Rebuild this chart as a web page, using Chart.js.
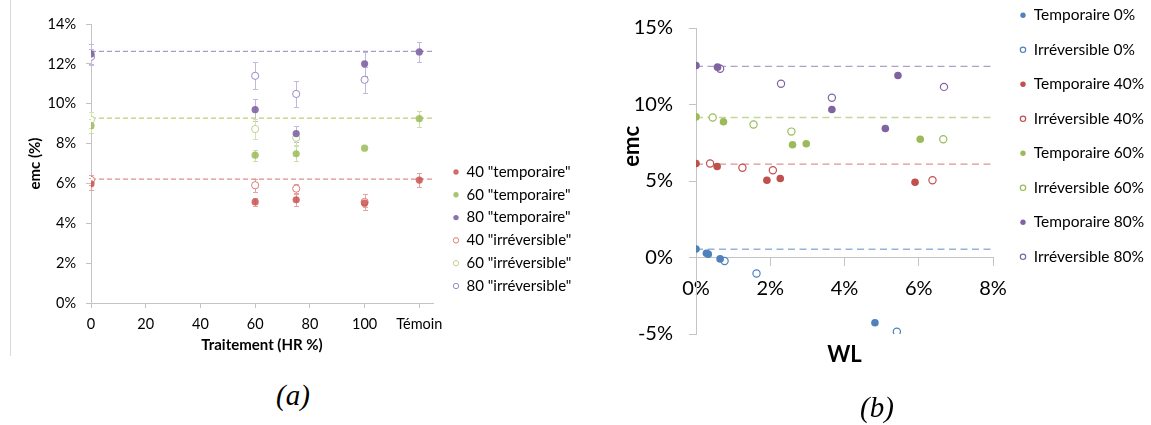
<!DOCTYPE html>
<html><head><meta charset="utf-8">
<script src="https://cdn.jsdelivr.net/npm/chart.js@4.4.1/dist/chart.umd.min.js"></script>
<style>
html,body{margin:0;padding:0;background:#fff;width:1151px;height:425px;overflow:hidden;}
#wa{position:absolute;left:0;top:0;width:645px;height:360px;}
#wb{position:absolute;left:600px;top:0;width:551px;height:425px;}
#frame{position:absolute;left:10px;top:0;width:1px;height:356px;background:#D9D9D9;}
.cap{position:absolute;width:100px;text-align:center;font-family:"Liberation Serif",serif;font-style:italic;font-size:29px;line-height:29px;color:#000;}
</style></head><body>
<div id="frame"></div>
<div id="wa"><canvas id="ca" width="645" height="360"></canvas></div>
<div id="wb"><canvas id="cb" width="551" height="425"></canvas></div>
<div class="cap" style="left:243px;top:381px;">(a)</div>
<div class="cap" style="left:827px;top:393px;">(b)</div>
<script>
// ---------- (a) emc vs treatment ----------
const xTicksA = [0, 20, 40, 60, 80, 100, 120];
const xTickLabelsA = ['0', '20', '40', '60', '80', '100', 'Témoin'];
const hrTemp = [0, 60, 75, 100, 120];      // 120 = Témoin
const hrIrr = [0, 60, 75, 100];
const temp40 = [5.98, 5.07, 5.18, 5.01, 6.17];
const temp40Err = [0.3, 0.2, 0.32, 0.2, 0.35];
const temp60 = [8.9, 7.42, 7.49, 7.77, 9.25];
const temp60Err = [0.35, 0.27, 0.37, 0, 0.4];
const temp80 = [12.5, 9.7, 8.5, 12.0, 12.6];
const temp80Err = [0.5, 0.55, 0.4, 0.6, 0.5];
const irr40 = [6.18, 5.91, 5.74, 5.07];
const irr40Err = [0.25, 0.33, 0.25, 0.38];
const irr60 = [9.2, 8.73, 8.29, null];
const irr60Err = [0.4, 0.5, 0.35, 0];
const irr80 = [12.35, 11.4, 10.49, 11.2];
const irr80Err = [0.4, 0.68, 0.65, 0.65];
const refA40 = 6.22, refA60 = 9.28, refA80 = 12.63;
const xMaxA = 125;

// ---------- (b) emc vs WL ----------
const wlTemp0 = [0, 0.28, 0.33, 0.65, 4.82];
const emcTemp0 = [0.56, 0.28, 0.22, -0.09, -4.26];
const wlIrr0 = [0.77, 1.63, 5.41];
const emcIrr0 = [-0.23, -1.05, -4.85];
const wlTemp40 = [0, 0.57, 1.91, 2.27, 5.9];
const emcTemp40 = [6.14, 5.95, 5.05, 5.16, 4.92];
const wlIrr40 = [0.38, 1.25, 2.07, 6.37];
const emcIrr40 = [6.14, 5.87, 5.7, 5.05];
const wlTemp60 = [0, 0.74, 2.6, 2.97, 6.04];
const emcTemp60 = [9.19, 8.87, 7.37, 7.43, 7.73];
const wlIrr60 = [0.45, 1.55, 2.57, 6.66];
const emcIrr60 = [9.15, 8.69, 8.23, 7.73];
const wlTemp80 = [0, 0.58, 3.66, 5.1, 5.44];
const emcTemp80 = [12.55, 12.44, 9.67, 8.43, 11.9];
const wlIrr80 = [0.65, 2.29, 3.66, 6.68];
const emcIrr80 = [12.34, 11.36, 10.44, 11.15];
const refB0 = 0.54, refB40 = 6.1, refB60 = 9.15, refB80 = 12.49;
const refBEnd = 8.05;

const C = {
  blue: '#4F81BD', red: '#C0504D', green: '#9BBB59', purple: '#8064A2',
};

Chart.defaults.font.family = 'Lato';
Chart.defaults.color = '#000';

const pts = (xs, ys) => xs.map((x, i) => ({x: x, y: ys[i]})).filter(p => p.y !== null);

// places the built-in legend so its first marker / first row sit where the reference has them
const legendPlace = {
  id: 'legendPlace',
  afterLayout(chart, args, opts) {
    const L = chart.legend;
    if (!L || opts.x == null) return;
    const pad = L.options.labels.padding;
    L.left = opts.x - pad;
    L.top = opts.y - pad;
    L.right = chart.width;
    L.bottom = chart.height;
    L.width = L.right - L.left;
    L.height = L.bottom - L.top;
  }
};

const errorBars = {
  id: 'errorBars',
  beforeDatasetsDraw(chart) {
    const ctx = chart.ctx, xs = chart.scales.x, ys = chart.scales.y;
    chart.data.datasets.forEach(ds => {
      if (!ds.errors) return;
      ctx.save();
      ctx.strokeStyle = ds.errorColor;
      ctx.lineWidth = 1;
      ds.data.forEach((p, i) => {
        const e = ds.errors[i];
        if (!e) return;
        const x = Math.round(xs.getPixelForValue(p.x)) + 0.5;
        const y1 = Math.round(ys.getPixelForValue(p.y + e)) + 0.5;
        const y2 = Math.round(ys.getPixelForValue(p.y - e)) + 0.5;
        ctx.beginPath();
        ctx.moveTo(x, y1); ctx.lineTo(x, y2);
        ctx.moveTo(x - 2.5, y1); ctx.lineTo(x + 2.5, y1);
        ctx.moveTo(x - 2.5, y2); ctx.lineTo(x + 2.5, y2);
        ctx.stroke();
      });
      ctx.restore();
    });
  }
};

// ---- chart (a)
const filledA = (label, xs, ys, errs, col, errCol) => ({
  label, data: pts(xs, ys), errors: errs, errorColor: errCol,
  backgroundColor: col, borderColor: col, borderWidth: 0, pointRadius: 3.6, order: 1
});
const openA = (label, xs, ys, errs, col, errCol) => ({
  label, data: pts(xs, ys), errors: errs, errorColor: errCol,
  backgroundColor: '#fff', borderColor: col, borderWidth: 1, pointRadius: 3.6, order: 1
});
const refLineA = (v, col) => ({
  label: 'ref', data: [{x: 0, y: v}, {x: xMaxA, y: v}], showLine: true, pointRadius: 0,
  borderColor: col, borderWidth: 1.2, borderDash: [5, 3], clip: false, order: 10
});

new Chart(document.getElementById('ca'), {
  type: 'scatter',
  data: {
    datasets: [
      filledA('40 "temporaire"', hrTemp, temp40, temp40Err, 'rgba(200,82,79,0.85)', '#E6A3A1'),
      filledA('60 "temporaire"', hrTemp, temp60, temp60Err, 'rgba(155,187,89,0.85)', '#CADFA6'),
      filledA('80 "temporaire"', hrTemp, temp80, temp80Err, 'rgba(128,100,162,0.9)', '#C4B8DC'),
      openA('40 "irréversible"', hrIrr, irr40, irr40Err, '#DC7B78', '#E6A3A1'),
      openA('60 "irréversible"', hrIrr, irr60, irr60Err, '#BCD48E', '#D3E4B3'),
      openA('80 "irréversible"', hrIrr, irr80, irr80Err, '#9E8AC6', '#C4B8DC'),
      refLineA(refA40, '#D98F8C'),
      refLineA(refA60, '#B8D371'),
      refLineA(refA80, '#AA9CC8'),
    ]
  },
  options: {
    responsive: false, animation: false,
    layout: {padding: {top: 24, left: 0, right: 112, bottom: 0}},
    plugins: {
      tooltip: {enabled: false},
      legend: {
        position: 'right', align: 'start', maxWidth: 100,
        labels: {
          usePointStyle: true, boxWidth: 6, boxHeight: 3.8, padding: 7.8,
          font: {size: 15}, color: '#000',
          filter: (it) => it.datasetIndex < 6
        }
      },
      legendPlace: {x: 453, y: 172 - 7.5}
    },
    scales: {
      x: {
        type: 'linear', min: 0, max: xMaxA,
        afterFit: s => { s.height = 57; },
        afterBuildTicks: s => { s.ticks = xTicksA.map(v => ({value: v})); },
        ticks: {
          callback: v => xTickLabelsA[xTicksA.indexOf(v)],
          font: {size: 14.5}, color: '#000', padding: 7.6, maxRotation: 0, autoSkip: false
        },
        grid: {display: true, drawOnChartArea: false, drawTicks: true, tickLength: 5, color: '#C4C4C4'},
        border: {color: '#C4C4C4'},
        title: {display: true, text: 'Traitement (HR %)', color: '#000',
          font: {size: 15, weight: 'bold'}, padding: {top: 0, bottom: 6}}
      },
      y: {
        min: 0, max: 14,
        afterFit: s => { s.width = 91; },
        ticks: {stepSize: 2, callback: v => v + '%', font: {size: 14.5}, color: '#000', padding: 10},
        grid: {display: true, drawOnChartArea: false, drawTicks: true, tickLength: 5, color: '#C4C4C4'},
        border: {color: '#C4C4C4'},
        title: {display: true, text: 'emc (%)', color: '#000',
          font: {size: 15, weight: 'bold'}, padding: {top: 26, bottom: 0}}
      }
    }
  },
  plugins: [legendPlace, errorBars]
});

// ---- chart (b)
const filledB = (label, xs, ys, col) => ({
  label, data: pts(xs, ys), backgroundColor: col, borderColor: col, borderWidth: 0,
  pointRadius: 3.8, order: 1
});
const openB = (label, xs, ys, col) => ({
  label, data: pts(xs, ys), backgroundColor: '#fff', borderColor: col, borderWidth: 1.2,
  pointRadius: 3.6, order: 1
});
const refLineB = (v, col) => ({
  label: 'ref', data: [{x: 0, y: v}, {x: refBEnd, y: v}], showLine: true, pointRadius: 0,
  borderColor: col, borderWidth: 1.4, borderDash: [7, 4.5], clip: false, order: 10
});

new Chart(document.getElementById('cb'), {
  type: 'scatter',
  data: {
    datasets: [
      filledB('Temporaire 0%', wlTemp0, emcTemp0, C.blue),
      openB('Irréversible 0%', wlIrr0, emcIrr0, C.blue),
      filledB('Temporaire 40%', wlTemp40, emcTemp40, C.red),
      openB('Irréversible 40%', wlIrr40, emcIrr40, C.red),
      filledB('Temporaire 60%', wlTemp60, emcTemp60, C.green),
      openB('Irréversible 60%', wlIrr60, emcIrr60, C.green),
      filledB('Temporaire 80%', wlTemp80, emcTemp80, C.purple),
      openB('Irréversible 80%', wlIrr80, emcIrr80, C.purple),
      refLineB(refB0, '#95B3D7'),
      refLineB(refB40, '#DA9694'),
      refLineB(refB60, '#C4D79B'),
      refLineB(refB80, '#B1A0C7'),
    ]
  },
  options: {
    responsive: false, animation: false,
    layout: {padding: {top: 15, left: 0, right: 58, bottom: 91}},
    plugins: {
      tooltip: {enabled: false},
      legend: {
        position: 'right', align: 'start', maxWidth: 100,
        labels: {
          usePointStyle: true, boxWidth: 6, boxHeight: 3.8, padding: 19,
          font: {size: 15.5}, color: '#000',
          filter: (it) => it.datasetIndex < 8
        }
      },
      legendPlace: {x: 420, y: 15.3 - 7.75}
    },
    scales: {
      x: {
        type: 'linear', min: 0, max: 8, position: {y: 0},
        afterFit: s => { s.height = 111; },
        ticks: {stepSize: 2, callback: v => v + '%', font: {size: 20}, color: '#000', padding: 11, maxRotation: 0},
        grid: {display: true, drawOnChartArea: false, drawTicks: true, tickLength: 8, color: '#C4C4C4'},
        border: {color: '#C4C4C4'},
        title: {display: true, text: 'WL', color: '#000', font: {size: 22, weight: 'bold'}, padding: {top: 0, bottom: 0}}
      },
      y: {
        min: -5, max: 15,
        afterFit: s => { s.width = 96; },
        ticks: {stepSize: 5, callback: v => v + '%', font: {size: 20}, color: '#000', padding: 16},
        grid: {display: true, drawOnChartArea: false, drawTicks: true, tickLength: 7, color: '#C4C4C4'},
        border: {color: '#C4C4C4'},
        title: {display: true, text: '             emc', color: '#000',
          font: {size: 22, weight: 'bold'}, padding: {top: 18.8, bottom: 0}}
      }
    }
  },
  plugins: [legendPlace]
});
</script>
</body></html>
